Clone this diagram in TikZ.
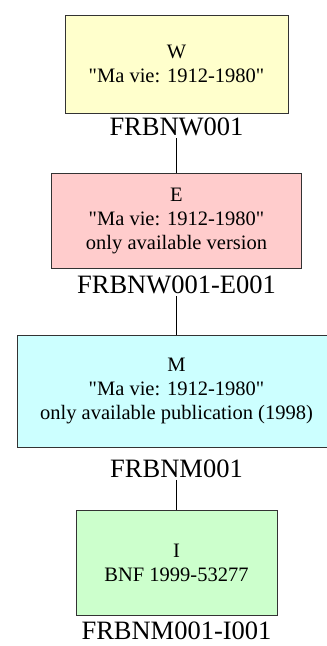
\documentclass[tikz,border=0pt]{standalone}
\usepackage{fontspec}
\setmainfont{Liberation Serif}[Ligatures=TeXOff]

\definecolor{workfill}{HTML}{FFFFCC}
\definecolor{exprfill}{HTML}{FFCCCC}
\definecolor{manifill}{HTML}{CCFFFF}
\definecolor{itemfill}{HTML}{CCFFCC}

\begin{document}
\begin{tikzpicture}[x=1pt, y=-1pt,
  box/.style={draw=black!80, line width=0.9pt, inner sep=0pt, align=center,
    font=\fontsize{20.5}{24}\selectfont},
  idlabel/.style={inner sep=2.5pt, anchor=base, font=\fontsize{26.5}{30}\selectfont}]

% Page size (pixels of the original figure):
\useasboundingbox (0,0) rectangle (327,646);

% Common vertical axis of the chain:
\def\xmid{176.5}

%--- Work ---
\node[box, fill=workfill, minimum width=223pt, minimum height=98pt] (work)
  at (\xmid,64) {W\\"Ma vie: 1912-1980"};
\node[idlabel] (workid) at (\xmid,135) {FRBNW001};

%--- Expression ---
\node[box, fill=exprfill, minimum width=250pt, minimum height=95pt] (expr)
  at (\xmid,220.5) {E\\"Ma vie: 1912-1980"\\only available version};
\node[idlabel] (exprid) at (\xmid,293) {FRBNW001-E001};

%--- Manifestation (runs past the right edge) ---
\node[box, fill=manifill, minimum width=319pt, minimum height=112pt] (mani)
  at (\xmid,391) {M\\"Ma vie: 1912-1980"\\only available publication (1998)};
\node[idlabel] (maniid) at (\xmid,477) {FRBNM001};

%--- Item ---
\node[box, fill=itemfill, minimum width=201pt, minimum height=105pt] (item)
  at (\xmid,562.5) {I\\BNF 1999-53277};
\node[idlabel] (itemid) at (\xmid,639) {FRBNM001-I001};

%--- Links between the levels ---
\draw[line width=0.8pt] (workid.south) -- (expr.north);
\draw[line width=0.8pt] (exprid.south) -- (mani.north);
\draw[line width=0.8pt] (maniid.south) -- (item.north);

\end{tikzpicture}
\end{document}
